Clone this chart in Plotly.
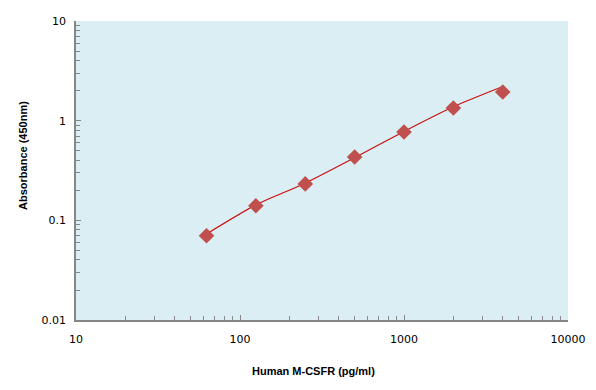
import plotly.graph_objects as go

conc = [62.5, 125, 250, 500, 1000, 2000, 4000]
absorbance = [0.070, 0.140, 0.232, 0.432, 0.77, 1.34, 1.94]
fit_conc = [62.5, 125, 250, 500, 1000, 2000, 4000]
fit_abs = [0.073, 0.143, 0.236, 0.425, 0.78, 1.38, 2.2]

x_ticks = [10, 100, 1000, 10000]
x_labels = ["10", "100", "1000", "10000"]
y_ticks = [0.01, 0.1, 1, 10]
y_labels = ["0.01", "0.1", "1", "10"]

fig = go.Figure()
fig.add_trace(go.Scatter(x=fit_conc, y=fit_abs, mode="lines",
                         line=dict(color="#CC1010", width=1.2, shape="spline", smoothing=0.6),
                         hoverinfo="skip"))
fig.add_trace(go.Scatter(x=conc, y=absorbance, mode="markers",
                         marker=dict(symbol="diamond", size=12, color="#C0504D",
                                     line=dict(width=0))))

axis_common = dict(type="log", showgrid=False, zeroline=False, showline=True, automargin=False,
                   linecolor="#868686", linewidth=1.5, ticks="inside", ticklen=5,
                   tickcolor="#868686", tickfont=dict(family="DejaVu Sans", size=11, color="#000"),
                   minor=dict(ticks="inside", ticklen=4, tickcolor="#868686", dtick="D1", showgrid=False))

fig.update_xaxes(range=[1, 4], tickvals=x_ticks, ticktext=x_labels, ticklabelstandoff=8, **axis_common)
fig.update_yaxes(range=[-2, 1], tickvals=y_ticks, ticktext=y_labels, ticklabelstandoff=6, **axis_common)

fig.add_annotation(text="<b>Human M-CSFR (pg/ml)</b>", xref="paper", yref="paper",
                   x=0.482, y=-0.172, showarrow=False, yanchor="middle",
                   font=dict(family="Liberation Sans", size=11, color="#000"))
fig.add_annotation(text="<b>Absorbance (450nm)</b>", xref="paper", yref="paper",
                   x=-0.109, y=0.55, showarrow=False, textangle=-90, xanchor="center",
                   font=dict(family="Liberation Sans", size=11, color="#000"))

fig.update_layout(width=596, height=390, showlegend=False,
                  margin=dict(l=76, r=28, t=21, b=70),
                  paper_bgcolor="white", plot_bgcolor="#DAEEF3")
fig.write_html("out.html", config={"displayModeBar": False},
               post_script="document.body.style.margin='0';document.body.style.overflow='hidden';")
